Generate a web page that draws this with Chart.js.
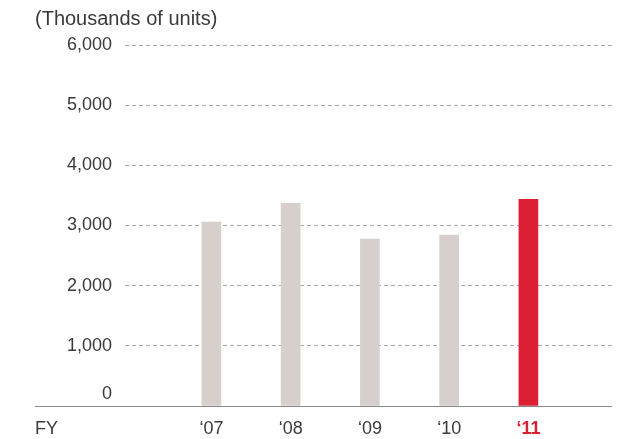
<!DOCTYPE html>
<html>
<head>
<meta charset="utf-8">
<style>
  html, body { margin: 0; padding: 0; background: #fff; }
  #wrap { width: 623px; height: 439px; }
</style>
<script src="https://cdn.jsdelivr.net/npm/chart.js@4/dist/chart.umd.min.js"></script>
</head>
<body>
<div id="wrap"><canvas id="myChart" width="623" height="439"></canvas></div>
<script>
// fiscal years, shown as ‘07 ... ‘11
const years = [7, 8, 9, 10, 11];
const yearLabels = ["\u201807", "\u201808", "\u201809", "\u201810", "\u201811"];
const units = [3055, 3370, 2775, 2840, 3435]; // thousands of units
const yTicks = [0, 1000, 2000, 3000, 4000, 5000, 6000];

const GREY = "#d6cfcc";
const RED = "#dc2034";
const TEXT = "#3a3a3a";
const FONT = "'Liberation Sans', Arial, sans-serif";

// extra text + baseline drawn on the canvas
const extras = {
  id: "extras",
  afterDraw(chart) {
    const ctx = chart.ctx;
    const y = chart.scales.y;
    ctx.save();
    ctx.fillStyle = TEXT;
    ctx.textBaseline = "middle";
    ctx.textAlign = "left";
    ctx.font = "20px " + FONT;
    ctx.fillText("(Thousands of units)", 35, 19);
    ctx.font = "18px " + FONT;
    ctx.fillText("FY", 35, 429);
    // the zero label sits above the baseline
    ctx.textAlign = "right";
    ctx.fillText("0", 112, y.getPixelForValue(0) - 12);
    // baseline
    ctx.strokeStyle = "#888";
    ctx.lineWidth = 1;
    ctx.beginPath();
    const by = Math.round(y.getPixelForValue(0)) + 0.5;
    ctx.moveTo(35, by);
    ctx.lineTo(612, by);
    ctx.stroke();
    ctx.restore();
  }
};

new Chart(document.getElementById("myChart"), {
  type: "bar",
  data: {
    datasets: [{
      data: years.map((v, i) => ({ x: v, y: units[i] })),
      backgroundColor: years.map((v, i) => i === years.length - 1 ? RED : GREY),
      barThickness: 19,
      borderWidth: 0
    }]
  },
  options: {
    responsive: false,
    animation: false,
    layout: { padding: { left: 35, right: 9, top: 45, bottom: 0 } },
    plugins: {
      legend: { display: false },
      tooltip: { enabled: false }
    },
    scales: {
      x: {
        type: "linear",
        offset: false,
        min: 5.91,
        max: 12.08,
        afterBuildTicks: (s) => { s.ticks = years.map(v => ({ value: v })); },
        afterFit: (s) => { s.height = 33; },
        grid: { display: false, drawTicks: false },
        border: { display: false },
        ticks: {
          padding: 12,
          color: (c) => c.index === years.length - 1 ? RED : TEXT,
          font: (c) => ({ family: FONT, size: 18, weight: c.index === years.length - 1 ? "bold" : "normal" }),
          callback: (v) => yearLabels[years.indexOf(v)]
        }
      },
      y: {
        min: 0,
        max: 6000,
        afterBuildTicks: (s) => { s.ticks = yTicks.map(v => ({ value: v })); },
        afterFit: (s) => { s.width = 90; },
        grid: {
          drawTicks: false,
          color: (c) => c.tick && c.tick.value === 0 ? "rgba(0,0,0,0)" : "#a8a8a8",
          lineWidth: 1
        },
        border: { display: false, dash: [4, 3] },
        ticks: {
          padding: 13,
          color: TEXT,
          font: { family: FONT, size: 18 },
          callback: (v) => v === 0 ? "" : v.toLocaleString("en-US")
        }
      }
    }
  },
  plugins: [extras]
});
</script>
</body>
</html>
